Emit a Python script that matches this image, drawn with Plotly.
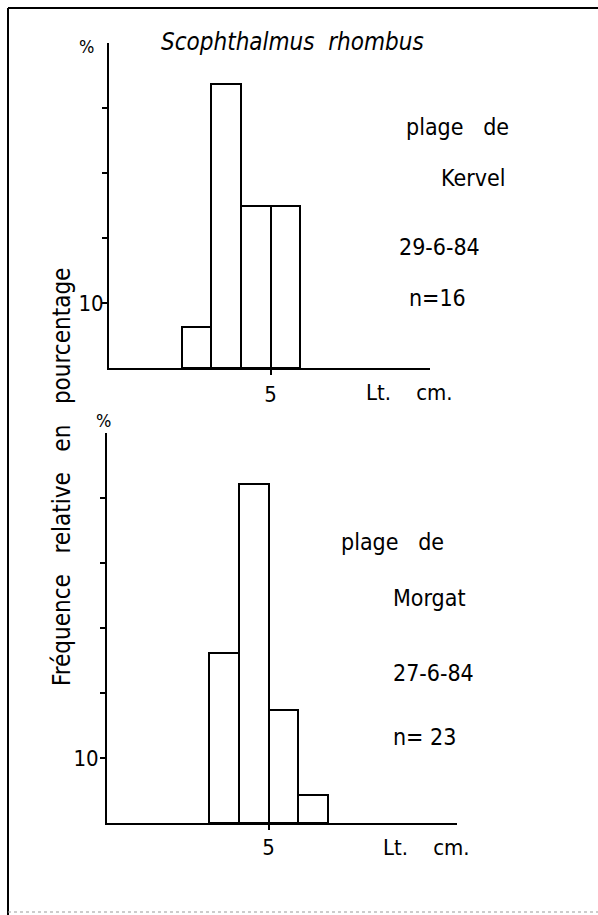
import plotly.graph_objects as go

# Length classes (lower bound, cm) and relative frequencies (%)
kervel_classes = [2, 3, 4, 5]
kervel_pct = [6.25, 43.75, 25.0, 25.0]
morgat_classes = [3, 4, 5, 6]
morgat_pct = [26.1, 52.2, 17.4, 4.3]

kervel_text = ["plage\u00a0\u00a0\u00a0de", "Kervel", "29-6-84", "n=16"]
morgat_text = ["plage\u00a0\u00a0\u00a0de", "Morgat", "27-6-84", "n=\u00a023"]

W, H = 598, 915
FONT = "DejaVu Sans Condensed, Liberation Sans Narrow, DejaVu Sans, sans-serif"


def px(x):
    return x / W


def py(y):
    return 1 - y / H


bar_style = dict(color="white", line=dict(color="black", width=2))

fig = go.Figure()
fig.add_trace(go.Bar(x=kervel_classes, y=kervel_pct, width=1, offset=0,
                     marker=bar_style, xaxis="x", yaxis="y", showlegend=False))
fig.add_trace(go.Bar(x=morgat_classes, y=morgat_pct, width=1, offset=0,
                     marker=bar_style, xaxis="x2", yaxis="y2", showlegend=False))

axis_common = dict(showline=True, linecolor="black", linewidth=2, showgrid=False,
                   zeroline=False, ticks="outside", ticklen=5, tickwidth=2,
                   tickcolor="black", tickfont=dict(family=FONT, size=22, color="black"))

fig.update_layout(
    width=W, height=H,
    margin=dict(l=0, r=0, t=0, b=0),
    paper_bgcolor="white", plot_bgcolor="white",
    bargap=0,
    xaxis=dict(domain=[px(109), px(430)], range=[-0.47, 10.4], anchor="y",
               tickvals=[5], ticklabelstandoff=1, **axis_common),
    yaxis=dict(domain=[py(368), py(43)], range=[0, 50], anchor="x",
               tickvals=[10, 20, 30, 40], ticktext=["10", "", "", ""],
               ticklabelstandoff=-6, **axis_common),
    xaxis2=dict(domain=[px(107), px(457)], range=[-0.4, 11.3], anchor="y2",
                tickvals=[5], ticklabelstandoff=-1, **axis_common),
    yaxis2=dict(domain=[py(823), py(433)], range=[0, 60], anchor="x2",
                tickvals=[10, 20, 30, 40, 50], ticktext=["10", "", "", "", ""],
                ticklabelstandoff=-3, **axis_common),
)

ann = []


def label(text, x, y, size=23, xanchor="left", angle=0):
    ann.append(dict(text=text, x=px(x), y=py(y), xref="paper", yref="paper",
                    xanchor=xanchor, yanchor="middle", showarrow=False, textangle=angle,
                    font=dict(family=FONT, size=size, color="black")))


label("<i>Scophthalmus\u00a0\u00a0rhombus</i>", 292, 42, size=24, xanchor="center")
label("%", 87, 47, size=18, xanchor="center")
label("%", 103, 420, size=18, xanchor="center")

# station notes, upper panel
for t, x, y in zip(kervel_text, [404, 439, 397, 407], [127, 178, 247, 298]):
    label(t, x, y)
# station notes, lower panel
for t, x, y in zip(morgat_text, [339, 391, 391, 391], [542, 598, 673, 737]):
    label(t, x, y)

# axis units
label("Lt.\u00a0\u00a0\u00a0\u00a0cm.", 364, 392, size=22)
label("Lt.\u00a0\u00a0\u00a0\u00a0cm.", 381, 847, size=22)

label("Fréquence\u00a0\u00a0\u00a0relative\u00a0\u00a0\u00a0en\u00a0\u00a0\u00a0pourcentage",
      62, 477, size=24, xanchor="center", angle=-90)

fig.update_layout(annotations=ann)

# page frame
fig.update_layout(shapes=[
    dict(type="line", xref="paper", yref="paper", x0=px(8), x1=px(8), y0=0, y1=py(8),
         line=dict(color="black", width=2)),
    dict(type="line", xref="paper", yref="paper", x0=px(8), x1=1, y0=py(8), y1=py(8),
         line=dict(color="black", width=2)),
    dict(type="line", xref="paper", yref="paper", x0=px(8), x1=1, y0=py(912), y1=py(912),
         line=dict(color="#999999", width=1, dash="dot")),
])

fig.write_html("out.html")
